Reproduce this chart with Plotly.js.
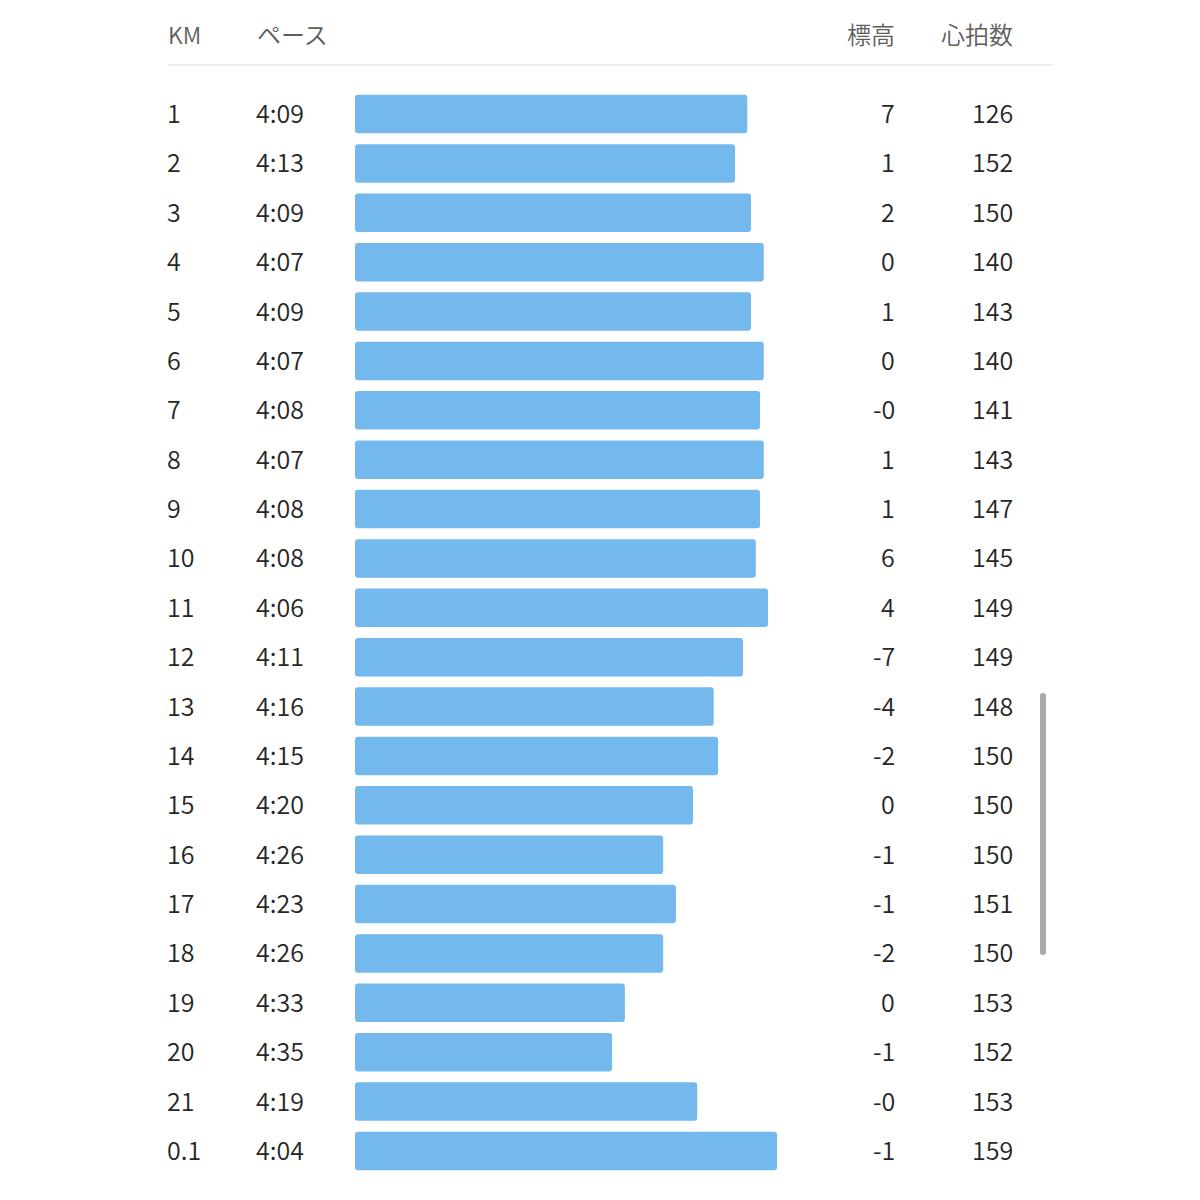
<!DOCTYPE html>
<html>
<head>
<meta charset="utf-8">
<script src="https://cdn.plot.ly/plotly-3.0.1.min.js"></script>
<style>html,body{margin:0;padding:0;background:#fff;}#chart{width:1200px;height:1200px;}</style>
</head>
<body>
<div id="chart"></div>
<script>
// ---- data ----
const kmLabels   = ['1','2','3','4','5','6','7','8','9','10','11','12','13','14','15','16','17','18','19','20','21','0.1'];
const paceLabels = ['4:09','4:13','4:09','4:07','4:09','4:07','4:08','4:07','4:08','4:08','4:06','4:11','4:16','4:15','4:20','4:26','4:23','4:26','4:33','4:35','4:19','4:04'];
// pace in seconds per km as drawn by the bars
const barPaceSec = [249.6,251.9,248.9,246.5,248.9,246.5,247.2,246.5,247.2,248.0,245.7,250.4,255.9,255.1,259.8,265.4,263.0,265.4,272.6,275.0,259.0,244.0];
const elevation  = ['7','1','2','0','1','0','-0','1','1','6','4','-7','-4','-2','0','-1','-1','-2','0','-1','-0','-1'];
const heartRate  = ['126','152','150','140','143','140','141','143','147','145','149','149','148','150','150','150','151','150','153','152','153','159'];
const headers    = {km:'KM', pace:'ペース', elev:'標高', hr:'心拍数'};

// ---- layout constants ----
const W = 1200, H = 1200;
const px = v => v / W;
const py = v => 1 - v / H;
const slowRef = 323.3;          // pace (s) at bar origin
const pxPerSec = 5.3226;
const barLeft = 355, barSpan = 500;
const rowTop = 114, rowStep = (1151 - 114) / 21;
const yTop = -rowTop / rowStep;
const yBot = (kmLabels.length - 1) + (H - 1151) / rowStep;

const font = 'Noto Sans CJK JP, Noto Sans, sans-serif';
const textColor = '#262626';
const headColor = '#5e5e5e';

const trace = {
  type: 'bar',
  orientation: 'h',
  y: kmLabels,
  base: kmLabels.map(() => slowRef),
  x: barPaceSec.map(s => s - slowRef),
  width: 38.5 / rowStep,
  marker: {color: '#74b9ed', cornerradius: 3, line: {width: 0}},
  hoverinfo: 'skip'
};

const annotations = [];
function ann(text, x, xanchor, y, yref, color, size, yshift) {
  annotations.push({text, x: px(x), xref: 'paper', xanchor, y, yref, yanchor: 'middle', yshift: yshift || 0,
    showarrow: false, font: {family: font, size, color, weight: 350}, borderpad: 0});
}
kmLabels.forEach((k, i) => {
  ann(k, 166, 'left', i, 'y', textColor, 25, 2);
  ann(paceLabels[i], 255, 'left', i, 'y', textColor, 25, 2);
  ann(elevation[i], 896, 'right', i, 'y', textColor, 25, 2);
  ann(heartRate[i], 1014, 'right', i, 'y', textColor, 25, 2);
});
ann(headers.km, 167, 'left', py(34), 'paper', headColor, 23);
ann(headers.pace, 256, 'left', py(34), 'paper', headColor, 24);
ann(headers.elev, 896, 'right', py(34), 'paper', headColor, 24);
ann(headers.hr, 1014, 'right', py(34), 'paper', headColor, 24);

const layout = {
  width: W, height: H,
  margin: {l: 0, r: 0, t: 0, b: 0, pad: 0},
  paper_bgcolor: '#ffffff', plot_bgcolor: 'rgba(0,0,0,0)',
  showlegend: false,
  xaxis: {domain: [px(barLeft), px(barLeft + barSpan)], range: [slowRef, slowRef - barSpan / pxPerSec],
          showgrid: false, zeroline: false, showticklabels: false, showline: false, fixedrange: true},
  yaxis: {type: 'category', categoryorder: 'array', categoryarray: kmLabels, range: [yBot, yTop],
          showgrid: false, zeroline: false, showticklabels: false, showline: false, fixedrange: true},
  annotations,
  shapes: [
    {type: 'line', xref: 'paper', yref: 'paper', x0: px(168), x1: px(1053), y0: py(65), y1: py(65),
     line: {color: '#e6e6e6', width: 1.5}},
    {type: 'path', xref: 'paper', yref: 'paper',
     path: `M ${px(1040)} ${py(696)} Q ${px(1040)} ${py(693)} ${px(1043)} ${py(693)} Q ${px(1046)} ${py(693)} ${px(1046)} ${py(696)} L ${px(1046)} ${py(952)} Q ${px(1046)} ${py(955)} ${px(1043)} ${py(955)} Q ${px(1040)} ${py(955)} ${px(1040)} ${py(952)} Z`,
     fillcolor: '#a9a9a9', line: {width: 0}}
  ]
};

Plotly.newPlot('chart', [trace], layout, {displayModeBar: false, staticPlot: true});
</script>
</body>
</html>
